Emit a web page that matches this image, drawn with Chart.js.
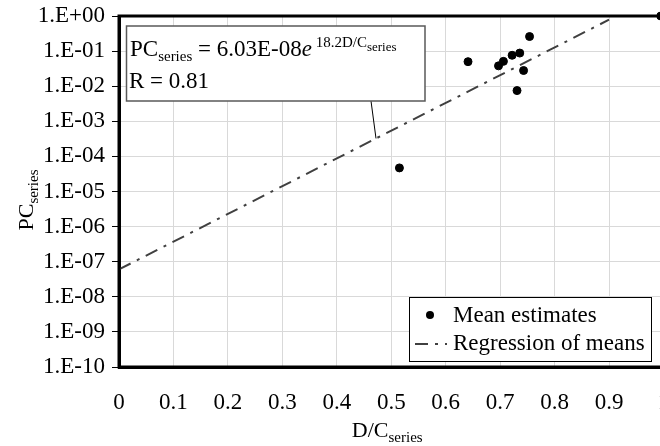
<!DOCTYPE html>
<html>
<head>
<meta charset="utf-8">
<script src="https://cdn.jsdelivr.net/npm/chart.js@4/dist/chart.umd.min.js"></script>
<style>
  html, body { margin: 0; padding: 0; background: #fff; overflow: hidden; }
  #wrap { width: 680px; height: 446px; }
</style>
</head>
<body>
<div id="wrap"><canvas id="chart" width="680" height="446"></canvas></div>
<script>
// mean estimates (D/C series, PC series)
var meanX = [0.515, 0.641, 0.697, 0.706, 0.722, 0.731, 0.736, 0.743, 0.754, 0.995];
var meanY = [4.7e-5, 0.050, 0.038, 0.051, 0.076, 0.0075, 0.088, 0.028, 0.26, 1.0];

// regression of means, end points of the line
var regX = [0, 0.9];
var regY = [6.03e-8, 0.785];

var xTickValues = [0, 0.1, 0.2, 0.3, 0.4, 0.5, 0.6, 0.7, 0.8, 0.9, 1];
var xTickLabels = ['0', '0.1', '0.2', '0.3', '0.4', '0.5', '0.6', '0.7', '0.8', '0.9', '1'];
var yTickValues = [1e-10, 1e-9, 1e-8, 1e-7, 1e-6, 1e-5, 1e-4, 1e-3, 1e-2, 1e-1, 1];
var yTickLabels = ['1.E-10', '1.E-09', '1.E-08', '1.E-07', '1.E-06', '1.E-05', '1.E-04', '1.E-03', '1.E-02', '1.E-01', '1.E+00'];

var FONT = 'Liberation Serif, Times New Roman, serif';

function pairs(xs, ys) {
  return xs.map(function(x, i) { return {x: x, y: ys[i]}; });
}

// draws pieces of text one after another: [text, size, dy, italic]
function drawRun(ctx, x, y, parts) {
  parts.forEach(function(p) {
    ctx.font = (p[3] ? 'italic ' : '') + p[1] + 'px ' + FONT;
    ctx.fillText(p[0], x, y + p[2]);
    x += ctx.measureText(p[0]).width;
  });
  return x;
}
function runWidth(ctx, parts) {
  var w = 0;
  parts.forEach(function(p) {
    ctx.font = (p[3] ? 'italic ' : '') + p[1] + 'px ' + FONT;
    w += ctx.measureText(p[0]).width;
  });
  return w;
}

var extras = {
  id: 'extras',
  afterDraw: function(chart) {
    var ctx = chart.ctx;
    var a = chart.chartArea;
    var xs = chart.scales.x, ys = chart.scales.y;
    ctx.save();

    // plot area frame
    ctx.strokeStyle = '#000';
    ctx.lineWidth = 3;
    ctx.strokeRect(a.left, a.top, a.right - a.left, a.bottom - a.top);

    ctx.fillStyle = '#000';
    ctx.textBaseline = 'alphabetic';

    // axis titles
    var xt = [['D/C', 22, 0], ['series', 15, 5]];
    var w = runWidth(ctx, xt);
    drawRun(ctx, (a.left + a.right) / 2 - w / 2 - 4, 437, xt);

    var yt = [['PC', 22, 0], ['series', 15, 5]];
    w = runWidth(ctx, yt);
    ctx.save();
    ctx.translate(33, 200);
    ctx.rotate(-Math.PI / 2);
    drawRun(ctx, -w / 2, 0, yt);
    ctx.restore();

    // leader line from equation box to the regression line
    var lx = xs.getPixelForValue(0.472);
    ctx.strokeStyle = '#000';
    ctx.lineWidth = 1;
    ctx.beginPath();
    ctx.moveTo(371, 101);
    ctx.lineTo(lx, ys.getPixelForValue(6.03e-8 * Math.exp(18.2 * 0.472)));
    ctx.stroke();

    // equation box
    ctx.fillStyle = '#fff';
    ctx.fillRect(126.5, 26, 298.5, 75);
    ctx.strokeStyle = '#595959';
    ctx.lineWidth = 1.5;
    ctx.strokeRect(126.5, 26, 298.5, 75);
    ctx.fillStyle = '#000';
    drawRun(ctx, 130, 56, [
      ['PC', 23, 0], ['series', 15, 5], [' = 6.03E-08', 23, 0], ['e', 23, 0, true],
      [' 18.2D/C', 15, -9], ['series', 13, -5]
    ]);
    drawRun(ctx, 129, 88, [['R = 0.81', 23, 0]]);

    // legend
    var ds0 = chart.data.datasets[0], ds1 = chart.data.datasets[1];
    ctx.fillStyle = '#fff';
    ctx.fillRect(409, 297, 242, 64);
    ctx.strokeStyle = '#000';
    ctx.lineWidth = 1;
    ctx.strokeRect(409.5, 297.5, 242, 64);
    ctx.fillStyle = ds0.backgroundColor;
    ctx.beginPath();
    ctx.arc(430, 315, ds0.pointRadius, 0, Math.PI * 2);
    ctx.fill();
    ctx.strokeStyle = ds1.borderColor;
    ctx.lineWidth = ds1.borderWidth;
    ctx.setLineDash(ds1.borderDash);
    ctx.beginPath();
    ctx.moveTo(415, 344);
    ctx.lineTo(447, 344);
    ctx.stroke();
    ctx.setLineDash([]);
    ctx.fillStyle = '#000';
    ctx.font = '23px ' + FONT;
    ctx.fillText(ds0.label, 453, 322);
    ctx.fillText(ds1.label, 453, 350);

    ctx.restore();
  }
};

new Chart(document.getElementById('chart'), {
  type: 'scatter',
  data: {
    datasets: [{
      label: 'Mean estimates',
      data: pairs(meanX, meanY),
      backgroundColor: '#000',
      borderColor: '#000',
      pointRadius: 4,
      pointHoverRadius: 4,
      clip: false
    }, {
      label: 'Regression of means',
      data: pairs(regX, regY),
      showLine: true,
      borderColor: '#404040',
      borderWidth: 2,
      borderDash: [13, 7, 3, 7],
      pointRadius: 0,
      fill: false
    }]
  },
  options: {
    responsive: false,
    animation: false,
    events: [],
    layout: { padding: { top: 16, right: 16.5, left: 0, bottom: 0 } },
    plugins: { legend: { display: false }, tooltip: { enabled: false } },
    scales: {
      x: {
        type: 'linear',
        min: 0,
        max: 1,
        afterBuildTicks: function(s) { s.ticks = xTickValues.map(function(v) { return {value: v}; }); },
        afterFit: function(s) { s.height = 79; s.paddingLeft = 0; s.paddingRight = 0; },
        grid: { color: '#d9d9d9', lineWidth: 1, drawTicks: false },
        border: { display: true, color: '#000', width: 3 },
        ticks: {
          color: '#000',
          font: { family: FONT, size: 23 },
          padding: 22,
          maxRotation: 0,
          autoSkip: false,
          callback: function(v, i) { return xTickLabels[i]; }
        }
      },
      y: {
        type: 'logarithmic',
        min: 1e-10,
        max: 1,
        afterBuildTicks: function(s) { s.ticks = yTickValues.map(function(v) { return {value: v}; }); },
        afterFit: function(s) { s.width = 119; s.paddingTop = 0; s.paddingBottom = 0; },
        grid: { color: '#d9d9d9', lineWidth: 1, drawTicks: true, tickLength: 7, tickColor: '#000' },
        border: { display: true, color: '#000', width: 3 },
        ticks: {
          color: '#000',
          font: { family: FONT, size: 23 },
          padding: 7,
          autoSkip: false,
          callback: function(v, i) { return yTickLabels[i]; }
        }
      }
    }
  },
  plugins: [extras]
});
</script>
</body>
</html>
